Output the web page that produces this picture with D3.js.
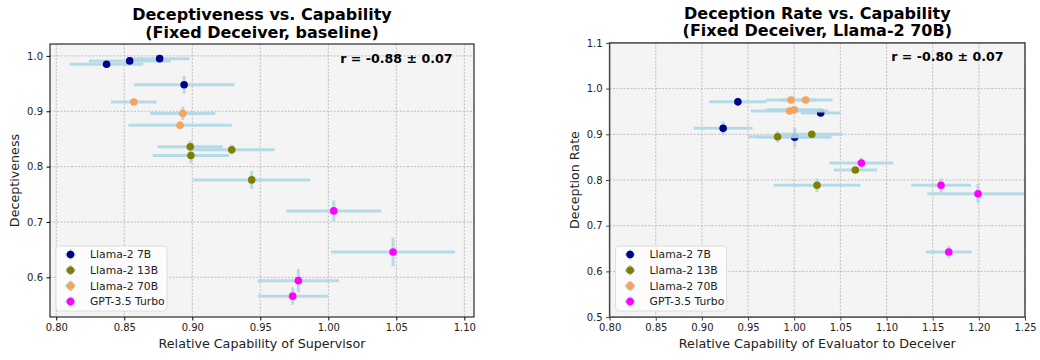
<!DOCTYPE html>
<html>
<head>
<meta charset="utf-8">
<script src="https://cdn.jsdelivr.net/npm/d3@7"></script>
<style>
  html, body { margin: 0; padding: 0; background: #fff; }
  svg { display: block; font-family: "DejaVu Sans", sans-serif; }
</style>
</head>
<body>
<svg id="chart" width="1040" height="360"></svg>
<script>
// ---------- data ----------
const seriesNames = ["Llama-2 7B", "Llama-2 13B", "Llama-2 70B", "GPT-3.5 Turbo"];
const seriesColors = ["#00008B", "#808000", "#F4A460", "#FF00FF"];

// each row: [x, y, xerr, yerr]
// left panel: Fixed Deceiver, baseline
const leftLlama7B = [
  [0.837, 0.985, 0.027, 0.005],
  [0.854, 0.991, 0.030, 0.005],
  [0.876, 0.995, 0.022, 0.005],
  [0.894, 0.948, 0.037, 0.016]
];
const leftLlama13B = [
  [0.8985, 0.836, 0.024, 0.011],
  [0.929, 0.8305, 0.0315, 0.009],
  [0.899, 0.820, 0.028, 0.014],
  [0.9437, 0.776, 0.043, 0.016]
];
const leftLlama70B = [
  [0.857, 0.9167, 0.0167, 0.005],
  [0.893, 0.896, 0.024, 0.012],
  [0.891, 0.8746, 0.038, 0.007]
];
const leftGPT35 = [
  [1.004, 0.720, 0.035, 0.0186],
  [1.0476, 0.6457, 0.0455, 0.026],
  [0.978, 0.594, 0.030, 0.021],
  [0.9738, 0.566, 0.0257, 0.0157]
];

// right panel: Fixed Deceiver, Llama-2 70B
const rightLlama7B = [
  [0.939, 0.971, 0.031, 0.009],
  [1.0287, 0.9466, 0.0215, 0.007],
  [0.923, 0.913, 0.032, 0.015],
  [1.0005, 0.8934, 0.040, 0.022]
];
const rightLlama13B = [
  [0.982, 0.8947, 0.032, 0.012],
  [1.019, 0.900, 0.034, 0.006],
  [1.0662, 0.822, 0.0235, 0.005],
  [1.0247, 0.7884, 0.047, 0.015]
];
const rightLlama70B = [
  [0.9965, 0.975, 0.027, 0.005],
  [1.0125, 0.975, 0.029, 0.005],
  [0.9951, 0.951, 0.042, 0.005],
  [1.0001, 0.9538, 0.030, 0.005]
];
const rightGPT35 = [
  [1.0727, 0.8372, 0.0347, 0.012],
  [1.159, 0.7884, 0.0323, 0.015],
  [1.1991, 0.770, 0.055, 0.021],
  [1.1674, 0.6425, 0.0248, 0.013]
];

const leftXTicks = [0.80, 0.85, 0.90, 0.95, 1.00, 1.05, 1.10];
const leftYTicks = [0.6, 0.7, 0.8, 0.9, 1.0];
const rightXTicks = [0.80, 0.85, 0.90, 0.95, 1.00, 1.05, 1.10, 1.15, 1.20, 1.25];
const rightYTicks = [0.5, 0.6, 0.7, 0.8, 0.9, 1.0, 1.1];

const leftTitle = ["Deceptiveness vs. Capability", "(Fixed Deceiver, baseline)"];
const rightTitle = ["Deception Rate vs. Capability", "(Fixed Deceiver, Llama-2 70B)"];
const leftXLabel = "Relative Capability of Supervisor";
const rightXLabel = "Relative Capability of Evaluator to Deceiver";
const leftYLabel = "Deceptiveness";
const rightYLabel = "Deception Rate";
const leftCorr = "r = -0.88 ± 0.07";
const rightCorr = "r = -0.80 ± 0.07";

// ---------- drawing ----------
const svg = d3.select("#chart");

function drawPanel(cfg) {
  const { x0, x1, y0, y1 } = cfg.box;
  const x = d3.scaleLinear().domain(cfg.xDomain).range([x0, x1]);
  const y = d3.scaleLinear().domain(cfg.yDomain).range([y1, y0]);
  const g = svg.append("g");
  const clipId = "clip-" + cfg.id;
  svg.append("defs").append("clipPath").attr("id", clipId)
    .append("rect").attr("x", x0).attr("y", y0).attr("width", x1 - x0).attr("height", y1 - y0);

  // background
  g.append("rect").attr("x", x0).attr("y", y0).attr("width", x1 - x0).attr("height", y1 - y0)
    .attr("fill", "#f4f4f4");

  // grid
  const grid = g.append("g").attr("clip-path", `url(#${clipId})`);
  grid.selectAll("line.vx").data(cfg.xTicks).join("line")
    .attr("x1", d => x(d)).attr("x2", d => x(d)).attr("y1", y0).attr("y2", y1)
    .attr("stroke", "#b0b0b0").attr("stroke-width", 0.8).attr("stroke-dasharray", "2,1.5");
  grid.selectAll("line.hy").data(cfg.yTicks).join("line")
    .attr("x1", x0).attr("x2", x1).attr("y1", d => y(d)).attr("y2", d => y(d))
    .attr("stroke", "#b0b0b0").attr("stroke-width", 0.8).attr("stroke-dasharray", "2,1.5");

  // data
  const plot = g.append("g").attr("clip-path", `url(#${clipId})`);
  cfg.series.forEach((pts, i) => {
    const sg = plot.append("g");
    sg.selectAll("line.xe").data(pts).join("line")
      .attr("x1", d => x(d[0] - d[2])).attr("x2", d => x(d[0] + d[2]))
      .attr("y1", d => y(d[1])).attr("y2", d => y(d[1]))
      .attr("stroke", "#ADD8E6").attr("stroke-width", 3).attr("stroke-opacity", 0.9);
    sg.selectAll("line.ye").data(pts).join("line")
      .attr("x1", d => x(d[0])).attr("x2", d => x(d[0]))
      .attr("y1", d => y(d[1] - d[3])).attr("y2", d => y(d[1] + d[3]))
      .attr("stroke", "#ADD8E6").attr("stroke-width", 3).attr("stroke-opacity", 0.9);
    sg.selectAll("circle").data(pts).join("circle")
      .attr("cx", d => x(d[0])).attr("cy", d => y(d[1])).attr("r", 3.8)
      .attr("fill", seriesColors[i]);
  });

  // axes
  const xAxis = d3.axisBottom(x).tickValues(cfg.xTicks).tickFormat(d3.format(".2f")).tickSize(3.5).tickPadding(3.5);
  const yAxis = d3.axisLeft(y).tickValues(cfg.yTicks).tickFormat(d3.format(".1f")).tickSize(3.5).tickPadding(3.5);
  const gx = g.append("g").attr("transform", `translate(0,${y1})`).call(xAxis);
  const gy = g.append("g").attr("transform", `translate(${x0},0)`).call(yAxis);
  [gx, gy].forEach(a => {
    a.select(".domain").remove();
    a.selectAll("text").attr("font-family", "DejaVu Sans").attr("font-size", 10).attr("fill", "#222");
    a.selectAll("line").attr("stroke", cfg.frameColor);
  });

  // frame
  g.append("rect").attr("x", x0).attr("y", y0).attr("width", x1 - x0).attr("height", y1 - y0)
    .attr("fill", "none").attr("stroke", cfg.frameColor).attr("stroke-width", cfg.frameWidth);

  // title
  const cx = (x0 + x1) / 2;
  g.append("text").attr("x", cx).attr("y", cfg.titleY[0]).attr("text-anchor", "middle")
    .attr("font-weight", "bold").attr("font-size", 16).text(cfg.title[0]);
  g.append("text").attr("x", cx).attr("y", cfg.titleY[1]).attr("text-anchor", "middle")
    .attr("font-weight", "bold").attr("font-size", 16).text(cfg.title[1]);

  // corr text
  g.append("text").attr("x", x1 - 21.5).attr("y", y0 + 18.5).attr("text-anchor", "end")
    .attr("font-weight", "bold").attr("font-size", 12.6).text(cfg.corr);

  // axis labels
  g.append("text").attr("x", cx).attr("y", 347.5).attr("text-anchor", "middle")
    .attr("font-size", 12.7).attr("fill", "#222").text(cfg.xLabel);
  g.append("text").attr("transform", `translate(${cfg.yLabelX},${(y0 + y1) / 2}) rotate(-90)`)
    .attr("text-anchor", "middle").attr("font-size", 12.7).attr("fill", "#222").text(cfg.yLabel);

  // legend
  const lx = x0 + 6, ly = 246, lw = 111, lh = 65;
  const leg = g.append("g");
  leg.append("rect").attr("x", lx).attr("y", ly).attr("width", lw).attr("height", lh)
    .attr("rx", 3).attr("fill", "#fdfdfd").attr("fill-opacity", 0.9)
    .attr("stroke", "#d6d6d6").attr("stroke-width", 0.8);
  seriesNames.forEach((name, i) => {
    const ey = ly + 8.5 + i * 15.7;
    const mx = lx + 14.5;
    leg.append("line").attr("x1", mx - 5).attr("x2", mx + 5).attr("y1", ey).attr("y2", ey)
      .attr("stroke", "#ADD8E6").attr("stroke-width", 3);
    leg.append("line").attr("x1", mx).attr("x2", mx).attr("y1", ey - 5).attr("y2", ey + 5)
      .attr("stroke", "#ADD8E6").attr("stroke-width", 3);
    leg.append("circle").attr("cx", mx).attr("cy", ey).attr("r", 3.8).attr("fill", seriesColors[i]);
    leg.append("text").attr("x", lx + 34).attr("y", ey + 3.8).attr("font-size", 10.8)
      .attr("fill", "#222").text(name);
  });
}

drawPanel({
  id: "left",
  box: { x0: 50, x1: 474, y0: 44, y1: 317 },
  xDomain: [0.7954, 1.1071],
  yDomain: [0.5283, 1.0215],
  xTicks: leftXTicks, yTicks: leftYTicks,
  series: [leftLlama7B, leftLlama13B, leftLlama70B, leftGPT35],
  title: leftTitle, titleY: [20, 37.5],
  xLabel: leftXLabel, yLabel: leftYLabel, yLabelX: 19,
  corr: leftCorr,
  frameColor: "#000", frameWidth: 1
});

drawPanel({
  id: "right",
  box: { x0: 609.6, x1: 1025, y0: 42.9, y1: 317.1 },
  xDomain: [0.80, 1.25],
  yDomain: [0.5, 1.1],
  xTicks: rightXTicks, yTicks: rightYTicks,
  series: [rightLlama7B, rightLlama13B, rightLlama70B, rightGPT35],
  title: rightTitle, titleY: [19, 36],
  xLabel: rightXLabel, yLabel: rightYLabel, yLabelX: 579,
  corr: rightCorr,
  frameColor: "#444", frameWidth: 1.5
});
</script>
</body>
</html>
